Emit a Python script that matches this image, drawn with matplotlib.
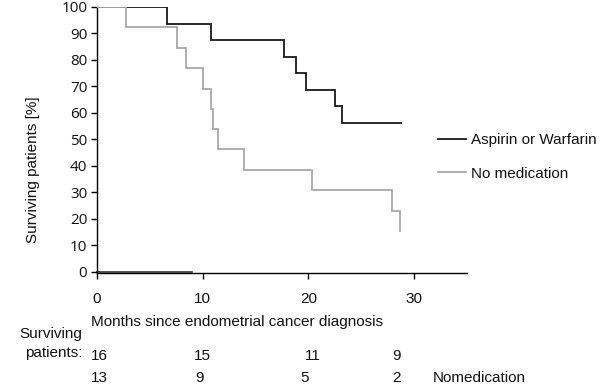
import matplotlib
matplotlib.use("Agg")
import matplotlib.pyplot as plt

# Kaplan-Meier step data (months, surviving %)
treated_times = [0, 6.6, 10.75, 17.7, 18.8, 19.8, 22.55, 23.2, 28.8]
treated_surv = [100, 93.75, 87.5, 81.25, 75.0, 68.75, 62.5, 56.25, 56.25]

untreated_times = [0, 2.75, 7.6, 8.4, 10.0, 10.77, 11.0, 11.4, 13.9, 20.3, 27.95, 28.7, 28.7]
untreated_surv = [100, 92.3, 84.6, 76.9, 69.2, 61.5, 53.8, 46.2, 38.5, 30.8, 23.1, 23.1, 15.4]

baseline_segment_x = [0, 9]
baseline_segment_y = [0, 0]

series_labels = ["Aspirin or Warfarin", "No medication"]
x_ticks = [0, 10, 20, 30]
y_ticks = [0, 10, 20, 30, 40, 50, 60, 70, 80, 90, 100]

risk_treated = ["16", "15", "11", "9"]
risk_untreated = ["13", "9", "5", "2"]

# layout (pixels)
row1_x = [91, 194, 305, 392]
row2_x = [91, 195, 300, 392]

W, H = 600, 391
fig = plt.figure(figsize=(6, 3.91), dpi=100)
ax = fig.add_axes([97 / W, 1 - 273 / H, (467 - 97) / W, (273 - 7) / H])

black = "#1a1a1a"
gray = "#a8a8a8"

ax.plot(treated_times, treated_surv, drawstyle="steps-post", color=black, lw=1.3,
        label=series_labels[0], solid_joinstyle="miter", zorder=2)
ax.plot(untreated_times, untreated_surv, drawstyle="steps-post", color=gray, lw=1.3,
        label=series_labels[1], solid_joinstyle="miter", zorder=3)
ax.plot(baseline_segment_x, baseline_segment_y, color="#333333", lw=1.2, zorder=1, clip_on=False)

ax.set_xlim(0, 35)
ax.set_ylim(-0.5, 100)
ax.spines["top"].set_visible(False)
ax.spines["right"].set_visible(False)
for s in ("left", "bottom"):
    ax.spines[s].set_linewidth(1.0)
    ax.spines[s].set_color("black")

ax.set_xticks(x_ticks)
ax.set_yticks(y_ticks)
ax.tick_params(axis="both", direction="out", length=4, width=1, colors="black")
ax.tick_params(axis="x", pad=10)
ax.tick_params(axis="y", pad=3)
for lab in ax.get_yticklabels():
    lab.set_fontfamily("Open Sans")
    lab.set_fontsize(11)
    lab.set_color("#111111")
for lab in ax.get_xticklabels():
    lab.set_fontfamily("Liberation Sans")
    lab.set_fontsize(11)
    lab.set_color("#111111")

fig.text(33 / W, 1 - 170 / H, "Surviving patients [%]", rotation=90, ha="center", va="center",
         fontsize=11, family="Liberation Sans", color="#111111")

leg = ax.legend(loc="upper left", bbox_to_anchor=(432 / W, 1 - 127 / H), bbox_transform=fig.transFigure,
                frameon=False, prop={"family": "Liberation Sans", "size": 11},
                handlelength=1.83, handletextpad=0.35, labelspacing=1.27, borderaxespad=0)
for t in leg.get_texts():
    t.set_color("#111111")

txt = dict(fontsize=11, family="Liberation Sans", color="#111111", va="baseline")
fig.text(91 / W, 1 - 326 / H, "Months since endometrial cancer diagnosis", ha="left", **txt)
fig.text(82 / W, 1 - 338 / H, "Surviving", ha="right", **txt)
fig.text(82 / W, 1 - 357 / H, "patients:", ha="right", **txt)
for xp, a in zip(row1_x, risk_treated):
    fig.text(xp / W, 1 - 360 / H, a, ha="left", **txt)
for xp, b in zip(row2_x, risk_untreated):
    fig.text(xp / W, 1 - 382 / H, b, ha="left", **txt)
fig.text(433 / W, 1 - 382 / H, "Nomedication", ha="left", **txt)

fig.savefig("out.png", dpi=100)
